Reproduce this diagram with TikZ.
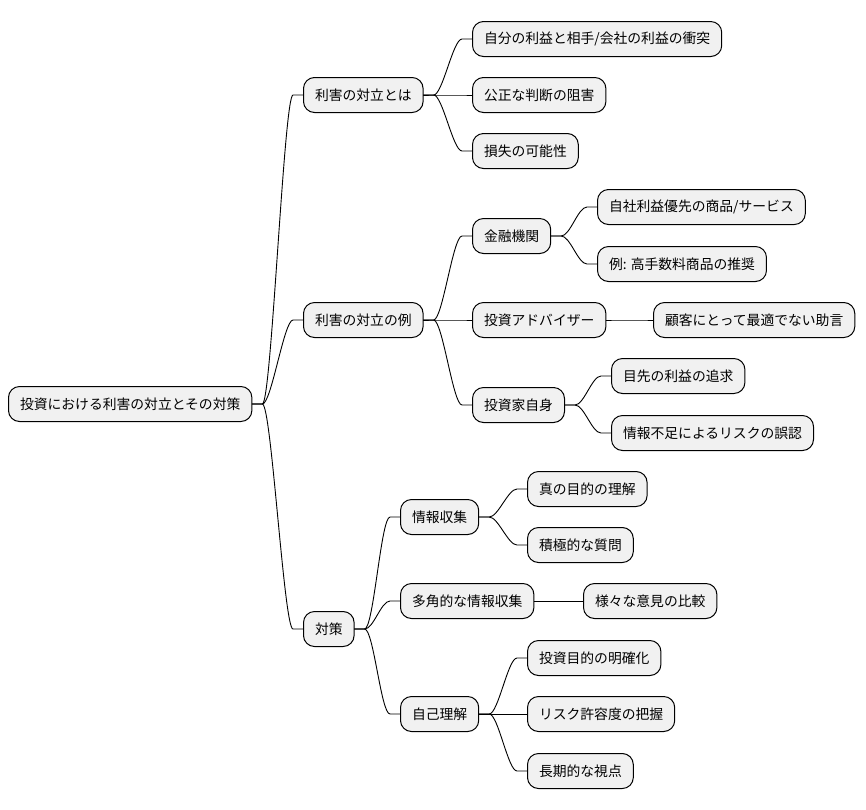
\documentclass[tikz,border=0pt]{standalone}
\usepackage{fontspec}
\setmainfont{Noto Sans CJK JP}
\usetikzlibrary{calc}
\definecolor{boxgray}{HTML}{F1F1F1}

\begin{document}
\begin{tikzpicture}[
  x=1pt,y=-1pt,
  font=\fontsize{13.8}{16}\selectfont,
  topic/.style={draw=black,fill=boxgray,rounded corners=11pt,line width=1pt,
                anchor=west,minimum height=35pt,inner xsep=11.5pt,inner ysep=0pt},
  link/.style={line width=.9pt,
    to path={-- ++(10,0) .. controls +(9,0) and +(-9,0) ..
             ($(\tikztotarget)+(-10,0)$) -- (\tikztotarget)}},
  every path/.style={line cap=round,line join=round}
]
\useasboundingbox (0,0) rectangle (866,809);

% root and first level
\node[topic] (root) at (8,404) {投資における利害の対立とその対策};
\node[topic] (defn) at (303,95) {利害の対立とは};
\node[topic] (examples) at (303,320) {利害の対立の例};
\node[topic] (measures) at (303,629) {対策};

% what a conflict of interest is
\node[topic] (clash) at (472,39) {自分の利益と相手/会社の利益の衝突};
\node[topic] (judge) at (472,95) {公正な判断の阻害};
\node[topic] (loss) at (472,151) {損失の可能性};

% examples
\node[topic] (finance) at (472,236) {金融機関};
\node[topic] (advisor) at (472,320) {投資アドバイザー};
\node[topic] (investor) at (472,405) {投資家自身};
\node[topic] (ownprod) at (597,207) {自社利益優先の商品/サービス};
\node[topic] (highfee) at (597,264) {例: 高手数料商品の推奨};
\node[topic] (advice) at (653,320) {顧客にとって最適でない助言};
\node[topic] (shortterm) at (611,376) {目先の利益の追求};
\node[topic] (misjudge) at (611,433) {情報不足によるリスクの誤認};

% measures
\node[topic] (gather) at (400,517) {情報収集};
\node[topic] (multi) at (400,601) {多角的な情報収集};
\node[topic] (self) at (400,714) {自己理解};
\node[topic] (purpose) at (527,489) {真の目的の理解};
\node[topic] (question) at (527,545) {積極的な質問};
\node[topic] (compare) at (583,601) {様々な意見の比較};
\node[topic] (goal) at (527,658) {投資目的の明確化};
\node[topic] (risk) at (527,714) {リスク許容度の把握};
\node[topic] (longterm) at (527,771) {長期的な視点};

\foreach \p/\c in {root/defn,root/examples,root/measures,
                   defn/clash,defn/judge,defn/loss,
                   examples/finance,examples/advisor,examples/investor,
                   finance/ownprod,finance/highfee,advisor/advice,
                   investor/shortterm,investor/misjudge,
                   measures/gather,measures/multi,measures/self,
                   gather/purpose,gather/question,multi/compare,
                   self/goal,self/risk,self/longterm}
  \draw[link] (\p.east) to (\c.west);
\end{tikzpicture}
\end{document}
